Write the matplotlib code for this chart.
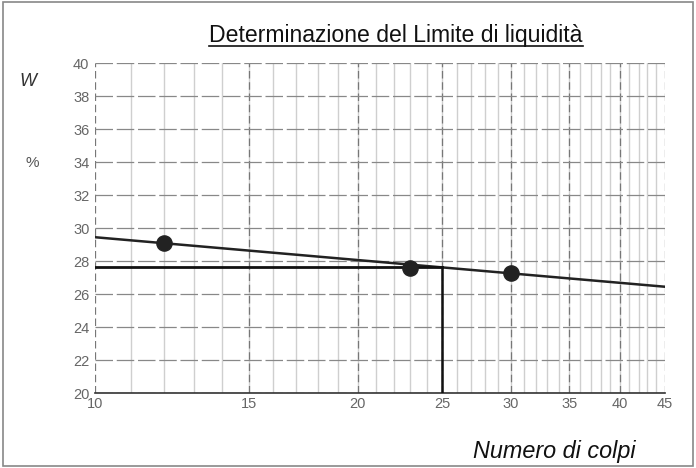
import numpy as np
import matplotlib
matplotlib.use("Agg")
import matplotlib.pyplot as plt
from matplotlib.lines import Line2D
from matplotlib.patches import Rectangle

# Data
colpi = [12, 23, 30]
umidita = [29.1, 27.6, 27.3]
fit_x = [10, 45]
fit_y = [29.45, 26.45]
limite_colpi = 25
limite_w = 27.65
xticks = [10, 15, 20, 25, 30, 35, 40, 45]
yticks = [20, 22, 24, 26, 28, 30, 32, 34, 36, 38, 40]
title = "Determinazione del Limite di liquidità"

plt.rcParams['font.family'] = ['Liberation Sans', 'DejaVu Sans']

fig = plt.figure(figsize=(6.96, 4.68), dpi=100)
fig.patch.set_facecolor('white')
fig.add_artist(Rectangle((0.004, 0.004), 0.992, 0.992, transform=fig.transFigure,
                         fill=False, edgecolor='#888888', lw=1.2))

ax = fig.add_axes([0.1365, 0.160, 0.8185, 0.705])
ax.set_xscale('log')
ax.set_xlim(10, 45)
ax.set_ylim(20, 40)

# grid
for v in range(11, 45):
    ax.axvline(v, color='#cfcfcf', lw=1.0, zorder=0)
for v in xticks:
    ax.axvline(v, color='#777777', lw=0.9, ls=(0, (6, 3)), zorder=0.5)
for v in yticks:
    ax.axhline(v, color='#888888', lw=0.9, ls=(0, (14, 3)), zorder=0.5)

ax.plot(fit_x, fit_y, color='#222222', lw=1.8, zorder=3)
ax.plot([10, limite_colpi], [limite_w, limite_w], color='#111111', lw=2.0, zorder=3)
ax.plot([limite_colpi, limite_colpi], [20, limite_w], color='#111111', lw=1.8, zorder=3)
ax.scatter(colpi, umidita, s=120, color='#222222', zorder=4)

for s in ['top', 'right', 'left']:
    ax.spines[s].set_visible(False)
ax.spines['bottom'].set_color('#333333')
ax.spines['bottom'].set_linewidth(1.2)

ax.xaxis.set_major_locator(matplotlib.ticker.FixedLocator(xticks))
ax.xaxis.set_minor_locator(matplotlib.ticker.NullLocator())
ax.xaxis.set_major_formatter(matplotlib.ticker.FixedFormatter([str(v) for v in xticks]))
ax.set_yticks(yticks)
ax.tick_params(axis='both', length=0, labelsize=10.5, colors='#666666', pad=4)
ax.tick_params(axis='x', pad=3)

t = fig.text(0.569, 0.910, title, ha='center', va='baseline', fontsize=16.6, color='#111111')
fig.text(0.04, 0.825, "W", ha='center', va='center', fontsize=13, style='italic', color='#333333')
fig.text(0.046, 0.652, "%", ha='center', va='center', fontsize=11, color='#555555')
fig.text(0.796, 0.036, "Numero di colpi", ha='center', va='center', fontsize=16.8,
         style='italic', color='#111111')

fig.canvas.draw()
bb = t.get_window_extent().transformed(fig.transFigure.inverted())
fig.add_artist(Line2D([bb.x0, bb.x1], [bb.y0 + 0.003, bb.y0 + 0.003],
                      transform=fig.transFigure, color='#111111', lw=1.2))

fig.savefig("out.png", dpi=100)
